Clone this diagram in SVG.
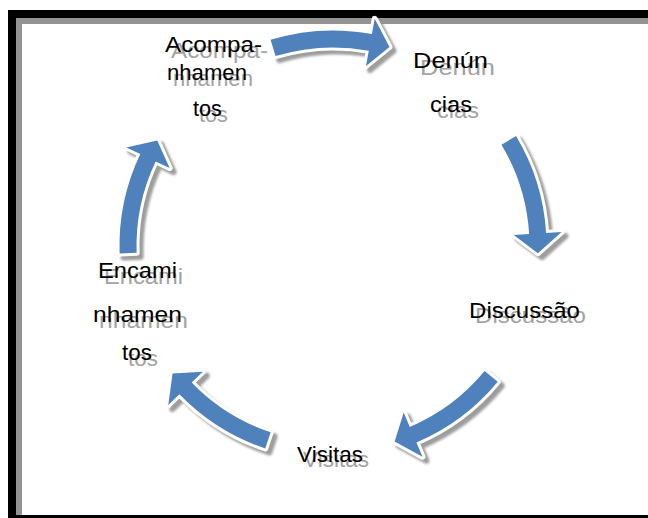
<svg xmlns="http://www.w3.org/2000/svg" xmlns:xlink="http://www.w3.org/1999/xlink" width="648" height="518" viewBox="0 0 648 518">
  <style>
    .lbl{font-family:"Liberation Sans",Arial,sans-serif;font-size:22px;fill:#000}
    .ghost{font-family:"Liberation Sans",Arial,sans-serif;font-size:22px;fill:#a3a3a3}
    .arrow{fill:#4f81bd;stroke:#ffffff;stroke-width:6;stroke-linejoin:round;paint-order:stroke}
    .shadow{fill:#8c8c8c;stroke:#8c8c8c;stroke-width:6;stroke-linejoin:round;opacity:0.85}
  </style>
  <defs>
    <filter id="blur" x="-20%" y="-20%" width="140%" height="140%">
      <feGaussianBlur stdDeviation="1.2"/>
    </filter>
    <path id="arr" d="M 204.71,-60.64 A 213.5 213.5 0 0 1 209.58,40.74 L 224.79,43.70 L 196.56,58.22 L 177.68,34.54 L 192.89,37.49 A 196.5 196.5 0 0 0 188.41,-55.81 Z"/>
  </defs>
  <rect x="0" y="0" width="648" height="518" fill="#ffffff"/>
  <g id="frame">
    <rect x="16" y="18" width="632" height="6" fill="#939393"/>
    <rect x="16" y="18" width="6" height="497" fill="#939393"/>
    <rect x="8" y="10" width="640" height="8" fill="#000"/>
    <rect x="8" y="10" width="8" height="508" fill="#000"/>
    <rect x="8" y="515" width="640" height="3" fill="#000"/>
  </g>
  <g id="connectors">
    <use xlink:href="#arr" class="shadow" filter="url(#blur)" transform="translate(4,4) translate(333,244) rotate(-90.5)"/>
    <use xlink:href="#arr" class="arrow" transform="translate(333,244) rotate(-90.5)"/>
    <use xlink:href="#arr" class="shadow" filter="url(#blur)" transform="translate(4,4) translate(333,246) rotate(-14.5)"/>
    <use xlink:href="#arr" class="arrow" transform="translate(333,246) rotate(-14.5)"/>
    <use xlink:href="#arr" class="shadow" filter="url(#blur)" transform="translate(4,4) translate(333,246) rotate(56)"/>
    <use xlink:href="#arr" class="arrow" transform="translate(333,246) rotate(56)"/>
    <use xlink:href="#arr" class="shadow" filter="url(#blur)" transform="translate(4,4) translate(333,246) rotate(125)"/>
    <use xlink:href="#arr" class="arrow" transform="translate(333,246) rotate(125)"/>
    <use xlink:href="#arr" class="shadow" filter="url(#blur)" transform="translate(4,4) translate(333,246) rotate(194.5)"/>
    <use xlink:href="#arr" class="arrow" transform="translate(333,246) rotate(194.5)"/>
  </g>
  <g id="node-acompanhamentos">
    <text class="ghost" x="171" y="58" textLength="97" lengthAdjust="spacingAndGlyphs">Acompa-</text>
    <text class="ghost" x="173" y="86" textLength="80" lengthAdjust="spacingAndGlyphs">nhamen</text>
    <text class="ghost" x="199" y="122" textLength="29" lengthAdjust="spacingAndGlyphs">tos</text>
    <text class="lbl" x="165" y="52" textLength="97" lengthAdjust="spacingAndGlyphs">Acompa-</text>
    <text class="lbl" x="167" y="80" textLength="80" lengthAdjust="spacingAndGlyphs">nhamen</text>
    <text class="lbl" x="193" y="116" textLength="29" lengthAdjust="spacingAndGlyphs">tos</text>
  </g>
  <g id="node-denuncias">
    <text class="ghost" x="420" y="75" textLength="75" lengthAdjust="spacingAndGlyphs">Denún</text>
    <text class="ghost" x="437" y="118" textLength="42" lengthAdjust="spacingAndGlyphs">cias</text>
    <text class="lbl" x="413" y="68" textLength="75" lengthAdjust="spacingAndGlyphs">Denún</text>
    <text class="lbl" x="430" y="112" textLength="42" lengthAdjust="spacingAndGlyphs">cias</text>
  </g>
  <g id="node-discussao">
    <text class="ghost" x="475" y="323" textLength="111" lengthAdjust="spacingAndGlyphs">Discussão</text>
    <text class="lbl" x="469" y="318" textLength="111" lengthAdjust="spacingAndGlyphs">Discussão</text>
  </g>
  <g id="node-visitas">
    <text class="ghost" x="303" y="467" textLength="66" lengthAdjust="spacingAndGlyphs">Visitas</text>
    <text class="lbl" x="297" y="462" textLength="66" lengthAdjust="spacingAndGlyphs">Visitas</text>
  </g>
  <g id="node-encaminhamentos">
    <text class="ghost" x="104" y="284" textLength="79" lengthAdjust="spacingAndGlyphs">Encami</text>
    <text class="ghost" x="99" y="328" textLength="89" lengthAdjust="spacingAndGlyphs">nhamen</text>
    <text class="ghost" x="128" y="366" textLength="30" lengthAdjust="spacingAndGlyphs">tos</text>
    <text class="lbl" x="98" y="278" textLength="79" lengthAdjust="spacingAndGlyphs">Encami</text>
    <text class="lbl" x="93" y="322" textLength="89" lengthAdjust="spacingAndGlyphs">nhamen</text>
    <text class="lbl" x="122" y="360" textLength="30" lengthAdjust="spacingAndGlyphs">tos</text>
  </g>
</svg>
